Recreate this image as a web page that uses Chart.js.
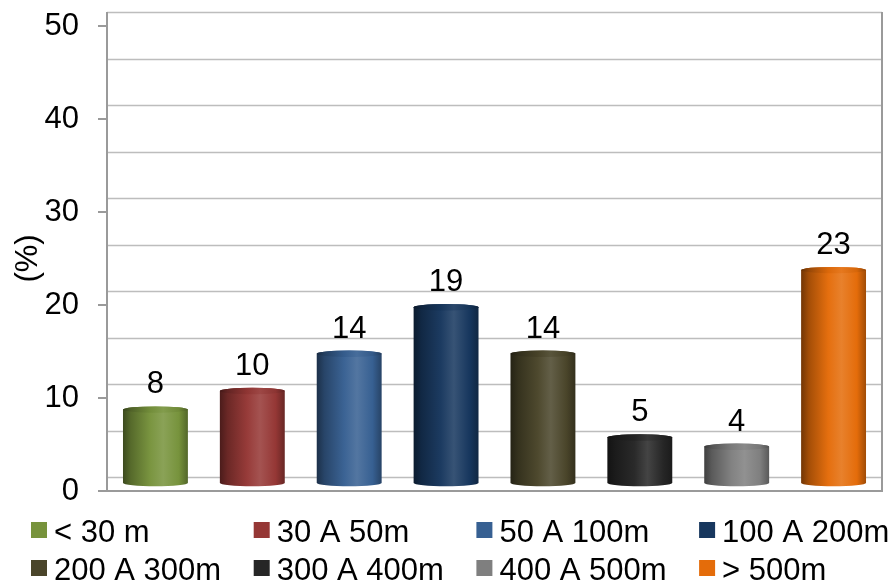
<!DOCTYPE html>
<html>
<head>
<meta charset="utf-8">
<title>Distance classes (%)</title>
<script src="https://cdn.jsdelivr.net/npm/chart.js@4/dist/chart.umd.min.js"></script>
<style>
  html, body { margin: 0; padding: 0; background: #ffffff; }
  #wrap { width: 893px; height: 584px; }
</style>
</head>
<body>
<div id="wrap"><canvas id="chart" width="893" height="584"></canvas></div>
<script>
// Distance classes and their share (%)
const categories = ['< 30 m', '30 A 50m', '50 A 100m', '100 A 200m', '200 A 300m', '300 A 400m', '400 A 500m', '> 500m'];
const shares = [8, 10, 14, 19, 14, 5, 4, 23];
const classColors = ['#77933C', '#953735', '#376092', '#17375E', '#4A452A', '#262626', '#7F7F7F', '#E46C0A'];
const yTicks = [0, 10, 20, 30, 40, 50];

const FONT = '"Liberation Sans", Arial, sans-serif';
const FONT_SIZE = 31;
const DEPTH = 14;        // vertical depth of the back wall
const CAP_RY = 3.2;      // vertical radius of the cylinder ends

function shade(hex, amt) {
  const n = parseInt(hex.slice(1), 16);
  let r = (n >> 16) & 255, g = (n >> 8) & 255, b = n & 255;
  const t = amt < 0 ? 0 : 255, p = Math.abs(amt);
  r = Math.round(r + (t - r) * p);
  g = Math.round(g + (t - g) * p);
  b = Math.round(b + (t - b) * p);
  return `rgb(${r},${g},${b})`;
}

function bodyGradient(ctx, left, w, color, lift) {
  const g = ctx.createLinearGradient(left, 0, left + w, 0);
  g.addColorStop(0, shade(color, -0.5 + lift));
  g.addColorStop(0.12, shade(color, -0.28 + lift));
  g.addColorStop(0.42, shade(color, 0.02 + lift));
  g.addColorStop(0.62, shade(color, 0.14 + lift));
  g.addColorStop(0.86, shade(color, 0.0 + lift));
  g.addColorStop(1, shade(color, -0.3 + lift));
  return g;
}

// Back wall grid lines and the frame of the plot
const wallPlugin = {
  id: 'wall',
  beforeDatasetsDraw(chart) {
    const { ctx, chartArea: a, scales: { y } } = chart;
    ctx.save();
    ctx.strokeStyle = '#bdbdbd';
    ctx.lineWidth = 1.6;
    for (let v = 0; v <= 50; v += 5) {
      const py = Math.round(y.getPixelForValue(v) - DEPTH) + 0.5;
      ctx.beginPath();
      ctx.moveTo(a.left, py);
      ctx.lineTo(a.right, py);
      ctx.stroke();
    }
    ctx.strokeStyle = '#9a9a9a';
    ctx.lineWidth = 2;
    ctx.beginPath();
    ctx.moveTo(a.left, a.top - DEPTH);
    ctx.lineTo(a.left, a.bottom);
    ctx.lineTo(a.right, a.bottom);
    ctx.lineTo(a.right, a.top - DEPTH);
    ctx.stroke();
    ctx.restore();
  }
};

// Cylinders, value labels and the legend
const cylinderPlugin = {
  id: 'cylinders',
  afterDatasetsDraw(chart) {
    const { ctx } = chart;
    const meta = chart.getDatasetMeta(0);
    ctx.save();
    ctx.translate(0, -DEPTH / 2);
    meta.data.forEach((bar, i) => {
      const { x, y, base, width } = bar.getProps(['x', 'y', 'base', 'width'], true);
      const color = classColors[i];
      const left = x - width / 2, rx = width / 2;
      ctx.fillStyle = bodyGradient(ctx, left, width, color, 0);
      ctx.beginPath();
      ctx.moveTo(left, y);
      ctx.lineTo(left, base);
      ctx.ellipse(x, base, rx, CAP_RY, 0, Math.PI, 0, true);
      ctx.lineTo(left + width, y);
      ctx.ellipse(x, y, rx, CAP_RY, 0, 0, Math.PI, true);
      ctx.closePath();
      ctx.fill();
      // top end
      ctx.fillStyle = bodyGradient(ctx, left, width, color, -0.06);
      ctx.beginPath();
      ctx.ellipse(x, y, rx, CAP_RY, 0, 0, Math.PI * 2);
      ctx.fill();
      // value label
      ctx.fillStyle = '#000000';
      ctx.font = `${FONT_SIZE}px ${FONT}`;
      ctx.textAlign = 'center';
      ctx.textBaseline = 'alphabetic';
      ctx.fillText(String(shares[i]), x, y - CAP_RY - 13);
    });
    ctx.restore();
  },
  afterDraw(chart) {
    const { ctx } = chart;
    ctx.save();
    ctx.font = `${FONT_SIZE}px ${FONT}`;
    ctx.textAlign = 'left';
    ctx.textBaseline = 'alphabetic';
    categories.forEach((name, i) => {
      const col = i % 4, row = Math.floor(i / 4);
      const sx = 31 + col * 222.7;
      const sy = row === 0 ? 522 : 560;
      ctx.fillStyle = classColors[i];
      ctx.fillRect(sx, sy, 16, 16);
      ctx.fillStyle = '#000000';
      ctx.fillText(name, sx + 23, sy + 20);
    });
    ctx.restore();
  }
};

new Chart(document.getElementById('chart'), {
  type: 'bar',
  data: {
    labels: categories,
    datasets: [{
      label: '(%)',
      data: shares,
      backgroundColor: 'rgba(0,0,0,0)',
      borderWidth: 0,
      barPercentage: 0.67,
      categoryPercentage: 1
    }]
  },
  options: {
    responsive: false,
    animation: false,
    layout: { padding: { top: 26, right: 11, bottom: 93, left: 0 } },
    plugins: { legend: { display: false }, tooltip: { enabled: false } },
    scales: {
      x: { display: false },
      y: {
        min: 0,
        max: 50,
        afterBuildTicks(scale) { scale.ticks = yTicks.map(v => ({ value: v })); },
        ticks: { font: { family: FONT, size: FONT_SIZE }, color: '#000000', padding: 19 },
        grid: { drawOnChartArea: false, drawTicks: true, tickLength: 9, tickColor: '#9a9a9a', lineWidth: 2 },
        border: { display: false },
        title: { display: true, text: '(%)', color: '#000000', font: { family: FONT, size: FONT_SIZE }, padding: { top: 10, bottom: 0 } },
        afterFit(scale) {
          scale.width = 107;
          scale.paddingTop = 0;
          scale.paddingBottom = 0;
        }
      }
    }
  },
  plugins: [wallPlugin, cylinderPlugin]
});
</script>
</body>
</html>
